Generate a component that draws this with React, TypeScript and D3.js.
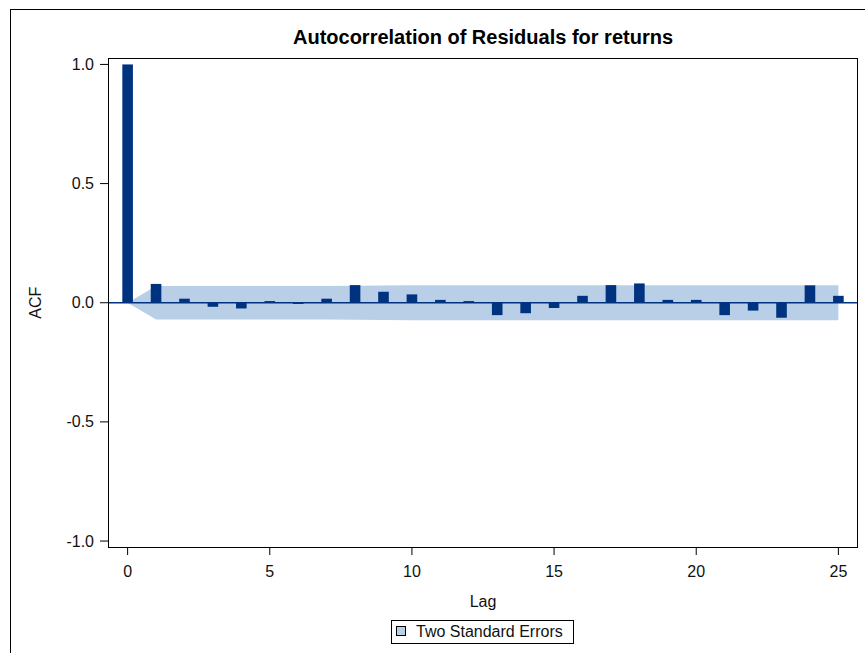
import * as d3 from "d3"

const lags = d3.range(0, 26)
const acf = [
  1.0, 0.079, 0.017, -0.017, -0.024, 0.007, -0.005, 0.017, 0.074, 0.046,
  0.035, 0.012, 0.007, -0.052, -0.044, -0.022, 0.029, 0.074, 0.081, 0.012,
  0.012, -0.052, -0.033, -0.063, 0.073, 0.029,
]
const twoSE = [
  0.0, 0.07, 0.07, 0.07, 0.07, 0.07, 0.07, 0.07, 0.071, 0.072,
  0.073, 0.073, 0.073, 0.073, 0.073, 0.073, 0.073, 0.073, 0.073, 0.073,
  0.073, 0.073, 0.073, 0.073, 0.073, 0.073,
]
const yTicks = [-1.0, -0.5, 0.0, 0.5, 1.0]
const xTicks = [0, 5, 10, 15, 20, 25]

export default function App() {
  const width = 865
  const height = 653
  const frame = { left: 108, top: 58, right: 858, bottom: 547 }

  const x = d3.scaleLinear().domain([-0.69, 25.69]).range([frame.left, frame.right])
  const y = d3.scaleLinear().domain([-1.025, 1.027]).range([frame.bottom, frame.top])

  const barW = x(0.373) - x(0)
  const barColor = "#00337f"
  const bandColor = "#b9cfe8"
  const font = "'Liberation Sans', Arial, sans-serif"
  const fmt = (v: number) => d3.format(".1f")(v).replace("\u2212", "-")

  const band = d3
    .area<number>()
    .x((d) => x(d))
    .y0((d, i) => y(-twoSE[i]))
    .y1((d, i) => y(twoSE[i]))

  return (
    <div style={{ position: "fixed", left: 0, top: 0 }}>
      <svg width={width} height={height} style={{ display: "block", background: "#fff" }}>
        {/* outer border */}
        <rect x={10.5} y={9.5} width={900} height={700} fill="none" stroke="#000" />

        <text
          x={(frame.left + frame.right) / 2}
          y={44}
          textAnchor="middle"
          fontFamily={font}
          fontWeight="bold"
          fontSize={20}
        >
          Autocorrelation of Residuals for returns
        </text>

        {/* band */}
        <path d={band(lags) ?? ""} fill={bandColor} />

        {/* zero line */}
        <line x1={frame.left} x2={frame.right} y1={y(0)} y2={y(0)} stroke={barColor} strokeWidth={1.5} />

        {/* bars */}
        {lags.map((l, i) => (
          <rect
            key={l}
            x={x(l) - barW / 2}
            y={Math.min(y(acf[i]), y(0))}
            width={barW}
            height={Math.abs(y(acf[i]) - y(0))}
            fill={barColor}
          />
        ))}

        {/* frame */}
        <rect
          x={frame.left + 0.5}
          y={frame.top + 0.5}
          width={frame.right - frame.left - 1}
          height={frame.bottom - frame.top}
          fill="none"
          stroke="#000"
        />

        {/* y axis */}
        {yTicks.map((t) => (
          <g key={t} transform={`translate(0,${y(t)})`}>
            <line x1={100} x2={frame.left} stroke="#000" />
            <text x={94} dy="0.35em" textAnchor="end" fontFamily={font} fontSize={16} fill="#111">
              {fmt(t)}
            </text>
          </g>
        ))}
        <text
          transform={`translate(41,${y(0)}) rotate(-90)`}
          textAnchor="middle"
          fontFamily={font}
          fontSize={16}
          fill="#111"
        >
          ACF
        </text>

        {/* x axis */}
        {xTicks.map((t) => (
          <g key={t} transform={`translate(${x(t)},0)`}>
            <line y1={frame.bottom} y2={frame.bottom + 8} stroke="#000" />
            <text y={577} textAnchor="middle" fontFamily={font} fontSize={16} fill="#111">
              {t}
            </text>
          </g>
        ))}
        <text x={(frame.left + frame.right) / 2} y={607} textAnchor="middle" fontFamily={font} fontSize={16} fill="#111">
          Lag
        </text>

        {/* legend */}
        <rect x={391.5} y={620.5} width={182} height={23} fill="#fff" stroke="#000" />
        <rect x={396.5} y={626.5} width={9} height={9} fill={bandColor} stroke="#000" />
        <text x={416} y={637} fontFamily={font} fontSize={16} fill="#111">
          Two Standard Errors
        </text>
      </svg>
    </div>
  )
}
